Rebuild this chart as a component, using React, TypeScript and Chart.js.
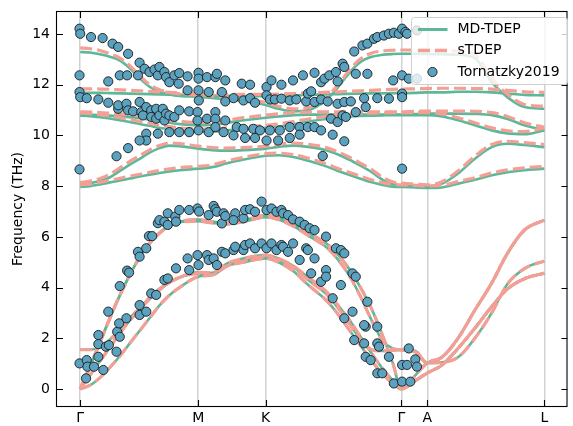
import React, { useEffect, useRef } from 'react';
import { Chart, registerables } from 'chart.js';
Chart.register(...registerables);

// path positions of the k-point samples
const kx = [0, 10, 20, 30, 40, 50, 60, 70, 80, 90, 100, 119, 133, 148, 165, 187, 200, 215, 230, 248, 260, 271, 282, 294, 305, 315, 324, 337, 350, 365, 381, 398, 415, 431, 448, 468];
const symPos = [0, 119, 187, 324, 350, 468];
const symLabels = ['Γ', 'M', 'K', 'Γ', 'A', 'L'];
const yTicks = [0, 2, 4, 6, 8, 10, 12, 14];

// acoustic / interlayer branches (both methods coincide)
const acZA = [0, 0.15, 0.45, 0.85, 1.3, 1.8, 2.3, 2.8, 3.3, 3.7, 4.0, 4.43, 4.5, 4.85, 5.0, 5.15, 5.0, 4.65, 4.1, 3.5, 2.95, 2.35, 1.75, 1.1, 0.6, 0.22, 0, 0.3, 0.63, 0.95, 1.6, 2.4, 3.25, 3.95, 4.35, 4.57];
const acTA = [0, 0.55, 1.1, 1.65, 2.2, 2.7, 3.15, 3.55, 3.9, 4.2, 4.4, 4.6, 4.58, 4.95, 5.15, 5.28, 5.15, 4.85, 4.4, 3.85, 3.3, 2.75, 2.1, 1.4, 0.8, 0.35, 0, 0.32, 0.63, 0.95, 1.6, 2.4, 3.25, 3.95, 4.35, 4.57];
const acBR = [1.55, 1.55, 1.65, 1.95, 2.35, 2.8, 3.2, 3.6, 3.95, 4.2, 4.4, 4.55, 4.5, 4.85, 5.05, 5.22, 5.1, 4.8, 4.3, 3.75, 3.2, 2.6, 2.0, 1.55, 1.5, 1.52, 1.54, 1.52, 1.03, 1.05, 1.25, 2.0, 3.0, 4.15, 4.75, 5.05];
const acLA = [0, 0.9, 1.85, 2.8, 3.7, 4.5, 5.2, 5.75, 6.15, 6.45, 6.6, 6.68, 6.6, 6.55, 6.65, 6.85, 6.75, 6.5, 6.15, 5.75, 5.3, 4.75, 4.05, 3.15, 2.1, 1.05, 0, 0.5, 1.03, 1.26, 2.0, 3.11, 4.18, 5.36, 6.27, 6.66];
const acU2 = [0, 0.9, 1.85, 2.8, 3.7, 4.5, 5.2, 5.75, 6.15, 6.45, 6.58, 6.62, 6.55, 6.5, 6.6, 6.78, 6.68, 6.42, 6.05, 5.6, 5.1, 4.5, 3.7, 2.7, 1.9, 1.6, 1.54, 1.48, 1.03, 1.26, 2.0, 3.11, 4.18, 5.36, 6.27, 6.66];

// optical branches, MD-TDEP
const mdOT = [13.29, 13.27, 13.2, 13.1, 12.95, 12.65, 12.25, 11.92, 11.72, 11.62, 11.56, 11.52, 11.48, 11.42, 11.35, 11.2, 11.05, 10.95, 11.0, 11.4, 11.9, 12.45, 12.88, 13.1, 13.18, 13.21, 13.22, 13.22, 13.21, 13.2, 13.18, 13.05, 12.1, 11.5, 11.12, 11.05];
const mdOF = [11.68, 11.68, 11.68, 11.67, 11.66, 11.65, 11.64, 11.63, 11.62, 11.61, 11.6, 11.58, 11.57, 11.56, 11.55, 11.55, 11.56, 11.58, 11.6, 11.62, 11.63, 11.64, 11.65, 11.66, 11.66, 11.67, 11.67, 11.68, 11.7, 11.7, 11.72, 11.72, 11.7, 11.65, 11.6, 11.58];
const mdO3 = [10.82, 10.82, 10.8, 10.78, 10.75, 10.72, 10.68, 10.62, 10.55, 10.5, 10.45, 10.4, 10.42, 10.5, 10.6, 10.7, 10.75, 10.8, 10.82, 10.82, 10.82, 10.82, 10.82, 10.82, 10.82, 10.82, 10.82, 10.84, 10.86, 10.86, 10.86, 10.85, 10.8, 10.65, 10.4, 10.2];
const mdO4 = [10.78, 10.76, 10.72, 10.67, 10.6, 10.53, 10.45, 10.38, 10.3, 10.25, 10.2, 10.15, 10.15, 10.2, 10.25, 10.3, 10.35, 10.45, 10.55, 10.65, 10.7, 10.74, 10.77, 10.78, 10.79, 10.8, 10.8, 10.8, 10.8, 10.75, 10.6, 10.4, 10.2, 10.08, 10.05, 10.2];
const mdO5 = [8.08, 8.12, 8.2, 8.35, 8.6, 8.85, 9.08, 9.32, 9.5, 9.6, 9.58, 9.48, 9.42, 9.4, 9.42, 9.48, 9.55, 9.6, 9.55, 9.42, 9.25, 9.05, 8.82, 8.55, 8.25, 8.08, 8.03, 8.0, 7.98, 8.1, 8.5, 9.08, 9.54, 9.67, 9.62, 9.54];
const mdO6 = [7.97, 8.0, 8.07, 8.15, 8.22, 8.3, 8.38, 8.45, 8.52, 8.58, 8.63, 8.69, 8.75, 8.9, 9.05, 9.2, 9.22, 9.15, 9.0, 8.78, 8.6, 8.45, 8.3, 8.15, 8.05, 7.98, 7.97, 7.95, 7.93, 7.95, 8.1, 8.25, 8.43, 8.55, 8.63, 8.69];

// optical branches, sTDEP
const sOT = [13.45, 13.42, 13.35, 13.22, 13.05, 12.75, 12.35, 12.0, 11.8, 11.7, 11.64, 11.6, 11.56, 11.5, 11.43, 11.3, 11.15, 11.05, 11.1, 11.5, 12.0, 12.55, 13.0, 13.25, 13.33, 13.36, 13.37, 13.37, 13.36, 13.35, 13.32, 13.18, 12.25, 11.62, 11.22, 11.15];
const sOF = [11.84, 11.84, 11.83, 11.82, 11.8, 11.78, 11.76, 11.74, 11.72, 11.7, 11.68, 11.66, 11.64, 11.62, 11.62, 11.62, 11.63, 11.65, 11.68, 11.7, 11.72, 11.74, 11.76, 11.78, 11.8, 11.82, 11.83, 11.84, 11.85, 11.86, 11.86, 11.85, 11.83, 11.78, 11.72, 11.7];
const sO3 = [10.93, 10.92, 10.9, 10.88, 10.85, 10.82, 10.78, 10.72, 10.66, 10.6, 10.55, 10.5, 10.52, 10.6, 10.7, 10.8, 10.85, 10.9, 10.92, 10.93, 10.93, 10.93, 10.93, 10.93, 10.93, 10.93, 10.93, 10.95, 10.96, 10.96, 10.96, 10.95, 10.9, 10.75, 10.5, 10.32];
const sO4 = [10.88, 10.86, 10.82, 10.77, 10.7, 10.63, 10.55, 10.48, 10.4, 10.35, 10.3, 10.25, 10.25, 10.3, 10.35, 10.4, 10.45, 10.55, 10.65, 10.75, 10.8, 10.84, 10.87, 10.88, 10.89, 10.9, 10.9, 10.9, 10.9, 10.85, 10.7, 10.5, 10.3, 10.18, 10.15, 10.3];
const sO5 = [8.15, 8.2, 8.3, 8.47, 8.72, 8.98, 9.2, 9.43, 9.6, 9.7, 9.68, 9.58, 9.52, 9.5, 9.52, 9.58, 9.65, 9.7, 9.65, 9.52, 9.35, 9.15, 8.92, 8.65, 8.35, 8.17, 8.12, 8.08, 8.05, 8.18, 8.6, 9.18, 9.64, 9.77, 9.72, 9.64];
const sO6 = [8.05, 8.08, 8.15, 8.23, 8.31, 8.39, 8.47, 8.55, 8.62, 8.68, 8.73, 8.78, 8.84, 8.99, 9.14, 9.28, 9.3, 9.24, 9.1, 8.88, 8.7, 8.55, 8.4, 8.25, 8.14, 8.07, 8.05, 8.03, 8.01, 8.03, 8.18, 8.33, 8.52, 8.64, 8.72, 8.78];

// experimental points [k, THz]
const expAcGM = [[-0.7,1.01],[6.6,1.14],[5.9,0.42],[7.3,0.88],[13.9,0.88],[18.3,1.27],[18.3,2.13],[18.3,1.77],[23.3,0.75],[25.9,1.67],[28.9,1.73],[28.3,3.05],[36.6,1.47],[37.3,2.26],[39.9,2.06],[39.3,2.59],[39.9,4.06],[46.6,2.79],[47.3,4.67],[49.3,4.59],[58.3,5.41],[59.9,5.22],[59.9,3.31],[59.9,2.92],[66.6,3.05],[66.6,5.55],[71.6,3.77],[76.6,3.71],[69.3,6.03],[72.6,6.03],[78.3,6.54],[79.9,6.66],[84.9,6.6],[84.9,4.3],[88.3,4.36],[88.3,6.93],[88.3,6.47],[95.9,6.8],[96.6,4.76],[96.6,6.6],[99.9,7.06],[108.3,5.15],[109.9,7.06],[109.9,4.69],[118.3,7.12],[118.3,5.28],[119.3,4.89],[119.9,7.0]];
const expAcUpper = [[129.6,6.86],[134.6,7.22],[136.3,7.09],[137.9,6.99],[142.9,6.53],[144.6,6.93],[146.3,6.82],[156.3,6.93],[154.6,6.66],[164.6,6.73],[166.3,7.06],[171.3,7.09],[176.3,6.99],[182.9,7.39],[187.9,7.06],[192.9,7.12],[197.9,6.99],[202.9,7.06],[204.6,6.93],[209.6,6.86],[214.6,6.69],[221.3,6.6],[226.3,6.47],[231.3,6.34],[236.3,6.27],[247.9,6.01],[257.9,5.55],[262.9,5.48],[266.3,5.35],[274.6,4.56],[277.9,4.43],[289.6,3.44],[287.9,2.46],[299.6,2.46],[299.6,1.8],[301.3,1.67],[311.3,1.27],[324.6,0.95],[329.6,0.95]];
const expAcLower = [[127.9,5.28],[129.6,5.09],[134.6,5.15],[137.9,4.89],[142.9,5.41],[146.3,5.35],[154.6,5.48],[156.3,5.61],[164.6,5.48],[166.3,5.68],[171.3,5.74],[176.3,5.55],[182.9,5.74],[187.9,5.55],[192.9,5.74],[197.9,5.48],[202.9,5.68],[204.6,5.61],[209.6,5.41],[214.6,5.74],[221.3,5.09],[227.9,5.55],[229.6,5.48],[232.9,4.56],[236.3,5.15],[242.9,4.23],[247.9,4.69],[247.9,4.43],[254.6,3.58],[262.9,4.1],[266.3,2.79],[274.6,3.05],[276.3,1.93],[286.3,1.8],[286.3,2.52],[287.9,1.27],[292.9,1.14],[299.6,0.62],[304.6,0.62],[316.3,0.22],[324.6,0.29],[331.3,1.6],[337.9,1.17],[339.6,0.88],[332.9,0.29]];
const expOpGM = [[-0.7,14.21],[0,14.01],[10.9,13.88],[22.6,13.84],[32.6,13.62],[38.3,13.49],[48.3,13.22],[-0.7,12.37],[28.3,12.13],[39.9,12.37],[47.3,12.37],[58.3,12.37],[59.9,12.87],[64.9,12.63],[69.9,12.5],[74.9,12.6],[78.3,12.37],[79.9,12.7],[84.9,12.5],[86.6,12.3],[89.9,12.1],[94.9,12.37],[99.3,12.04],[99.9,12.46],[108.3,11.78],[108.3,12.33],[119.3,12.47],[119.3,12.24],[119.3,11.78],[-0.7,11.71],[0,11.51],[6.6,11.47],[18.3,11.42],[28.3,11.29],[38.3,11.05],[38.3,11.19],[46.6,11.25],[48.3,10.99],[53.3,10.95],[59.9,11.32],[61.6,10.92],[63.3,10.79],[66.6,11.12],[71.6,10.99],[71.6,10.73],[76.6,11.05],[76.6,10.66],[79.9,10.79],[83.3,11.05],[84.9,10.59],[86.6,10.86],[89.9,10.79],[94.9,10.73],[99.9,10.99],[109.9,10.95],[118.3,10.92],[118.3,10.59],[119.3,10.2],[109.9,10.13],[99.9,10.13],[89.9,10.13],[78.3,10.07],[66.6,10.07],[66.6,9.8],[59.9,9.8],[48.3,9.5],[36.6,9.18],[-0.7,8.66]];
const expOpMK = [[127.9,12.3],[136.3,12.3],[137.9,12.43],[146.3,12.17],[162.9,12.04],[171.3,12.0],[187.9,11.91],[192.9,12.17],[202.9,12.0],[214.6,12.17],[224.6,12.37],[129.6,11.71],[142.9,11.71],[154.6,11.47],[146.3,11.34],[164.6,11.38],[171.3,11.47],[176.3,11.29],[187.9,11.58],[191.3,11.42],[196.3,11.42],[202.9,11.45],[211.3,11.38],[217.9,11.42],[119.6,11.38],[127.9,10.66],[136.3,10.92],[136.3,10.66],[146.3,10.59],[157.9,10.33],[164.6,10.26],[174.6,10.26],[181.3,10.2],[191.3,10.2],[201.3,10.2],[211.3,10.33],[221.3,10.33],[129.6,10.13],[136.3,10.33],[144.6,10.13],[154.6,10.0],[166.3,9.9],[176.3,9.9],[187.9,9.8],[199.6,9.8],[211.3,9.9],[221.3,10.03]];
const expOpKG = [[276.3,13.31],[284.6,13.55],[289.6,13.62],[296.3,13.81],[299.6,13.88],[306.3,13.94],[311.3,14.01],[316.3,14.05],[321.3,14.01],[324.6,14.21],[327.9,14.08],[236.3,12.47],[242.9,12.1],[246.3,12.24],[251.3,12.37],[257.9,12.5],[264.6,12.83],[266.3,12.7],[277.9,12.43],[289.6,12.43],[259.6,12.13],[227.9,11.34],[229.6,11.65],[232.9,11.74],[236.3,11.32],[242.9,11.42],[249.6,11.34],[259.6,11.25],[266.3,11.32],[272.9,11.34],[286.3,11.47],[287.9,11.12],[299.6,11.47],[311.3,11.45],[324.6,11.65],[324.6,11.51],[315.6,12.17],[324.6,12.37],[229.6,10.33],[236.3,10.33],[242.9,10.2],[252.9,10.66],[259.6,10.53],[264.6,10.79],[267.9,10.73],[277.9,10.92],[254.6,10.03],[266.3,9.77],[244.6,9.19],[324.6,8.69],[329.6,14.01],[339.6,14.14],[331.3,12.24],[339.6,12.24]];

const GREEN = '#5bb898';
const SALMON = '#f39f95';
const DOT = '#5aa2bf';
const FONT = 'DejaVu Sans';
const W = 573;
const H = 426;

function pts(arr: number[]) {
  return kx.map((x, i) => ({ x, y: arr[i] }));
}

const framePlugin = {
  id: 'frameAndLegend',
  afterDatasetsDraw(chart: any) {
    const { ctx, chartArea, scales } = chart;
    const { left, right, top, bottom } = chartArea;
    const xs = scales.x;
    const ys = scales.y;
    ctx.save();
    ctx.strokeStyle = '#000';
    ctx.lineWidth = 1.1;
    ctx.strokeRect(left - 0.5, top - 0.5, right - left, bottom - top + 1);
    const L = 6;
    ctx.beginPath();
    symPos.forEach((v) => {
      const px = Math.round(xs.getPixelForValue(v)) + 0.5;
      ctx.moveTo(px, bottom);
      ctx.lineTo(px, bottom - L);
      ctx.moveTo(px, top);
      ctx.lineTo(px, top + L);
    });
    yTicks.forEach((v) => {
      const py = Math.round(ys.getPixelForValue(v)) + 0.5;
      ctx.moveTo(left, py);
      ctx.lineTo(left + L, py);
      ctx.moveTo(right, py);
      ctx.lineTo(right - L, py);
    });
    ctx.stroke();

    // legend
    const bx = 411.5, by = 17.5, bw = 156, bh = 67, r = 3;
    ctx.beginPath();
    ctx.moveTo(bx + r, by);
    ctx.lineTo(bx + bw - r, by);
    ctx.quadraticCurveTo(bx + bw, by, bx + bw, by + r);
    ctx.lineTo(bx + bw, by + bh - r);
    ctx.quadraticCurveTo(bx + bw, by + bh, bx + bw - r, by + bh);
    ctx.lineTo(bx + r, by + bh);
    ctx.quadraticCurveTo(bx, by + bh, bx, by + bh - r);
    ctx.lineTo(bx, by + r);
    ctx.quadraticCurveTo(bx, by, bx + r, by);
    ctx.closePath();
    ctx.fillStyle = 'rgba(255,255,255,0.8)';
    ctx.fill();
    ctx.strokeStyle = '#d0d0d0';
    ctx.lineWidth = 1;
    ctx.stroke();

    const rows = [29.5, 50.5, 72];
    ctx.strokeStyle = GREEN;
    ctx.lineWidth = 3;
    ctx.setLineDash([]);
    ctx.beginPath();
    ctx.moveTo(418, rows[0]);
    ctx.lineTo(447.5, rows[0]);
    ctx.stroke();

    ctx.strokeStyle = SALMON;
    ctx.lineWidth = 3.4;
    ctx.setLineDash([12, 5]);
    ctx.beginPath();
    ctx.moveTo(418, rows[1]);
    ctx.lineTo(447.5, rows[1]);
    ctx.stroke();
    ctx.setLineDash([]);

    ctx.beginPath();
    ctx.arc(432.5, rows[2], 4.6, 0, Math.PI * 2);
    ctx.fillStyle = DOT;
    ctx.fill();
    ctx.strokeStyle = '#1a1a1a';
    ctx.lineWidth = 0.9;
    ctx.stroke();

    ctx.fillStyle = '#000';
    ctx.font = `14px "${FONT}"`;
    ctx.textBaseline = 'middle';
    ctx.textAlign = 'left';
    ctx.fillText('MD-TDEP', 457.5, rows[0]);
    ctx.fillText('sTDEP', 457.5, rows[1]);
    ctx.fillText('Tornatzky2019', 457.5, rows[2]);
    ctx.restore();
  },
};

export default function App() {
  const ref = useRef<HTMLCanvasElement | null>(null);

  useEffect(() => {
    if (!ref.current) return;
    const mdBands = [acZA, acTA, acBR, acLA, acU2, mdOT, mdOF, mdO3, mdO4, mdO5, mdO6];
    const sBands = [acZA, acTA, acBR, acLA, acU2, sOT, sOF, sO3, sO4, sO5, sO6];
    const expAll = [...expAcGM, ...expAcUpper, ...expAcLower, ...expOpGM, ...expOpMK, ...expOpKG];

    const datasets: any[] = [];
    datasets.push({
      type: 'scatter',
      label: 'Tornatzky2019',
      data: expAll.map((p) => ({ x: p[0], y: p[1] })),
      pointRadius: 4.6,
      pointBorderWidth: 0.9,
      pointBackgroundColor: DOT,
      pointBorderColor: '#1a1a1a',
      backgroundColor: DOT,
      borderColor: '#1a1a1a',
      order: 0,
    });
    sBands.forEach((b, i) => {
      datasets.push({
        type: 'line',
        label: i === 0 ? 'sTDEP' : '',
        data: pts(b),
        borderColor: SALMON,
        borderWidth: 3.2,
        borderDash: [12, 5],
        pointRadius: 0,
        cubicInterpolationMode: 'monotone',
        fill: false,
        order: 1,
      });
    });
    mdBands.forEach((b, i) => {
      datasets.push({
        type: 'line',
        label: i === 0 ? 'MD-TDEP' : '',
        data: pts(b),
        borderColor: GREEN,
        borderWidth: 2.6,
        pointRadius: 0,
        cubicInterpolationMode: 'monotone',
        fill: false,
        order: 2,
      });
    });

    const chart = new Chart(ref.current, {
      type: 'line',
      data: { datasets },
      options: {
        animation: false,
        responsive: false,
        maintainAspectRatio: false,
        devicePixelRatio: 1,
        events: [],
        layout: { padding: { left: 0, right: 1, top: 12, bottom: 0 } },
        plugins: { legend: { display: false }, tooltip: { enabled: false } },
        scales: {
          x: {
            type: 'linear',
            min: -23.4,
            max: 491.4,
            afterBuildTicks: (s: any) => {
              s.ticks = symPos.map((v) => ({ value: v }));
            },
            afterFit: (s: any) => {
              s.height = 20;
              s.paddingLeft = 0;
              s.paddingRight = 0;
              s.paddingTop = 0;
              s.paddingBottom = 0;
            },
            ticks: {
              autoSkip: false,
              maxRotation: 0,
              padding: 4,
              color: '#000',
              font: { family: FONT, size: 14 },
              callback: (_v: any, i: number) => symLabels[i],
            },
            grid: { color: '#d2d2d2', lineWidth: 1.5, drawTicks: false },
            border: { display: false },
          },
          y: {
            type: 'linear',
            min: -0.67,
            max: 14.868,
            afterBuildTicks: (s: any) => {
              s.ticks = yTicks.map((v) => ({ value: v }));
            },
            afterFit: (s: any) => {
              s.width = 57;
              s.paddingTop = 0;
              s.paddingBottom = 0;
              s.paddingLeft = 0;
              s.paddingRight = 0;
            },
            ticks: {
              padding: 7,
              color: '#000',
              font: { family: FONT, size: 14 },
              callback: (v: any) => String(v),
            },
            grid: { display: false, drawTicks: false },
            border: { display: false },
            title: {
              display: true,
              text: 'Frequency (THz)',
              color: '#000',
              font: { family: FONT, size: 14 },
              padding: { top: 10, bottom: 0 },
            },
          },
        },
      },
      plugins: [framePlugin],
    });
    return () => chart.destroy();
  }, []);

  return (
    <div style={{ position: 'fixed', left: 0, top: 0, width: W, height: H, background: '#fff' }}>
      <canvas ref={ref} width={W} height={H} style={{ display: 'block', width: W, height: H }} />
    </div>
  );
}
